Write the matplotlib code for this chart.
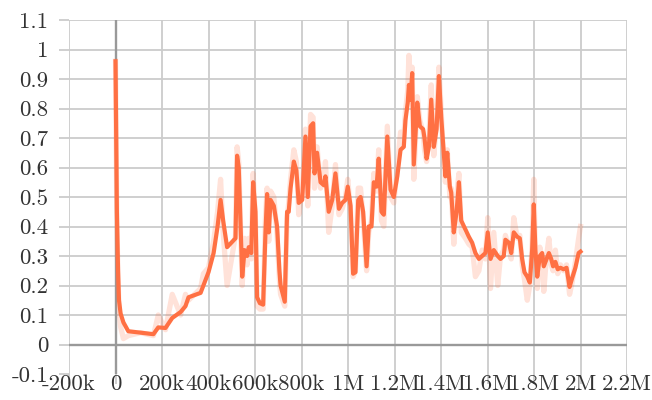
import matplotlib
matplotlib.use("Agg")
import matplotlib.pyplot as plt
from matplotlib.ticker import FixedLocator

plt.rcParams['axes.unicode_minus'] = False

# steps in thousands
steps_k = [0, 6, 11, 15, 22, 34, 55, 108, 163, 184, 215, 244, 280, 301, 314, 366, 378, 400, 422, 439,
           452, 463, 480, 516, 523, 530, 545, 555, 566, 573, 584, 592, 602, 609, 621, 635, 645, 652, 659, 667,
           681, 695, 705, 710, 728, 738, 745, 753, 767, 778, 788, 803, 817, 827, 839, 850, 856, 867, 882, 896,
           903, 917, 932, 946, 961, 975, 989, 999, 1011, 1022, 1032, 1044, 1054, 1065, 1080, 1089, 1101, 1111, 1123, 1132,
           1144, 1154, 1169, 1183, 1197, 1212, 1226, 1240, 1247, 1257, 1262, 1269, 1276, 1283, 1298, 1309, 1323, 1329, 1338, 1348,
           1358, 1369, 1381, 1391, 1401, 1412, 1419, 1427, 1438, 1444, 1455, 1467, 1477, 1487, 1505, 1520, 1534, 1548, 1563, 1577,
           1591, 1601, 1613, 1627, 1644, 1656, 1670, 1677, 1692, 1702, 1713, 1728, 1739, 1749, 1759, 1771, 1782, 1792, 1799, 1806,
           1814, 1825, 1835, 1842, 1854, 1864, 1874, 1882, 1892, 1902, 1914, 1927, 1940, 1953, 1964, 1978, 1992, 2000]

smoothed = [0.96, 0.45, 0.25, 0.15, 0.105, 0.075, 0.045, 0.04, 0.035, 0.058, 0.056, 0.09, 0.11, 0.13, 0.16, 0.175, 0.20, 0.245, 0.31, 0.40,
            0.49, 0.42, 0.33, 0.36, 0.64, 0.60, 0.23, 0.32, 0.30, 0.33, 0.31, 0.55, 0.45, 0.16, 0.14, 0.135, 0.38, 0.51, 0.38, 0.49,
            0.47, 0.40, 0.25, 0.20, 0.145, 0.45, 0.45, 0.53, 0.62, 0.59, 0.48, 0.49, 0.705, 0.50, 0.74, 0.75, 0.58, 0.65, 0.55, 0.54,
            0.57, 0.45, 0.49, 0.58, 0.46, 0.48, 0.49, 0.535, 0.47, 0.24, 0.245, 0.49, 0.50, 0.45, 0.265, 0.40, 0.40, 0.55, 0.535, 0.63,
            0.45, 0.44, 0.705, 0.525, 0.50, 0.57, 0.66, 0.67, 0.76, 0.82, 0.88, 0.83, 0.92, 0.61, 0.82, 0.74, 0.73, 0.70, 0.63, 0.67,
            0.83, 0.67, 0.73, 0.91, 0.77, 0.65, 0.57, 0.65, 0.535, 0.515, 0.38, 0.45, 0.55, 0.42, 0.39, 0.365, 0.345, 0.31, 0.29, 0.30,
            0.31, 0.38, 0.29, 0.32, 0.30, 0.29, 0.30, 0.355, 0.345, 0.31, 0.38, 0.365, 0.36, 0.29, 0.245, 0.23, 0.21, 0.32, 0.475, 0.32,
            0.23, 0.30, 0.31, 0.265, 0.29, 0.31, 0.29, 0.265, 0.28, 0.255, 0.26, 0.255, 0.26, 0.195, 0.225, 0.26, 0.31, 0.315]

raw = [0.96, 0.40, 0.22, 0.12, 0.06, 0.02, 0.03, 0.04, 0.03, 0.10, 0.05, 0.17, 0.10, 0.17, 0.15, 0.19, 0.24, 0.26, 0.35, 0.45,
       0.56, 0.38, 0.20, 0.37, 0.67, 0.62, 0.20, 0.36, 0.27, 0.36, 0.29, 0.58, 0.42, 0.13, 0.12, 0.12, 0.43, 0.53, 0.35, 0.52,
       0.50, 0.37, 0.22, 0.17, 0.13, 0.43, 0.48, 0.56, 0.66, 0.62, 0.44, 0.52, 0.73, 0.47, 0.78, 0.77, 0.53, 0.67, 0.53, 0.56,
       0.62, 0.38, 0.47, 0.61, 0.44, 0.46, 0.50, 0.56, 0.45, 0.23, 0.25, 0.53, 0.53, 0.43, 0.25, 0.38, 0.42, 0.58, 0.52, 0.66,
       0.42, 0.40, 0.74, 0.50, 0.48, 0.60, 0.72, 0.70, 0.79, 0.86, 0.98, 0.84, 0.94, 0.56, 0.84, 0.76, 0.72, 0.66, 0.62, 0.70,
       0.88, 0.64, 0.76, 0.94, 0.79, 0.62, 0.55, 0.66, 0.50, 0.53, 0.34, 0.50, 0.58, 0.38, 0.36, 0.34, 0.33, 0.23, 0.25, 0.32,
       0.29, 0.43, 0.19, 0.38, 0.20, 0.30, 0.32, 0.37, 0.33, 0.29, 0.43, 0.36, 0.37, 0.27, 0.22, 0.15, 0.20, 0.34, 0.56, 0.30,
       0.19, 0.33, 0.29, 0.18, 0.30, 0.36, 0.27, 0.25, 0.32, 0.24, 0.27, 0.25, 0.27, 0.17, 0.21, 0.28, 0.36, 0.40]

x_ticks = [-200000, 0, 200000, 400000, 600000, 800000, 1000000, 1200000, 1400000, 1600000, 1800000, 2000000, 2200000]
x_labels = ['-200k', '0', '200k', '400k', '600k', '800k', '1M', '1.2M', '1.4M', '1.6M', '1.8M', '2M', '2.2M']
y_ticks = [-0.1, 0, 0.1, 0.2, 0.3, 0.4, 0.5, 0.6, 0.7, 0.8, 0.9, 1, 1.1]
y_labels = ['-0.1', '0', '0.1', '0.2', '0.3', '0.4', '0.5', '0.6', '0.7', '0.8', '0.9', '1', '1.1']

steps = [s * 1000 for s in steps_k]
color = '#ff7043'
grid_c = '#cccccc'
zero_c = '#999999'

fig = plt.figure(figsize=(6.52, 4.0), dpi=100)
ax = fig.add_axes([69 / 652, 1 - 374 / 400, (627 - 69) / 652, (374 - 20) / 400])

for xt in x_ticks:
    if xt != 0:
        ax.axvline(xt, color=grid_c, lw=1.3, zorder=0)
for yt in y_ticks:
    if yt not in (0, -0.1):
        ax.axhline(yt, color=grid_c, lw=1.3, zorder=0)
ax.axhline(0, color=zero_c, lw=1.7, zorder=0.5)
ax.axvline(0, color=zero_c, lw=1.7, zorder=0.5)

ax.plot(steps, raw, color=color, alpha=0.2, lw=3.8, zorder=2)
ax.plot(steps, smoothed, color=color, lw=3.0, zorder=3)

ax.set_xlim(-200000, 2200000)
ax.set_ylim(-0.1, 1.1)
ax.xaxis.set_major_locator(FixedLocator(x_ticks))
ax.yaxis.set_major_locator(FixedLocator(y_ticks))
ax.set_xticklabels(x_labels)
ax.set_yticklabels(y_labels)
for s in ax.spines.values():
    s.set_visible(False)
ax.tick_params(axis='both', length=7, width=1.3, color=grid_c, labelcolor='#333333', labelsize=16.5)
ax.tick_params(axis='x', pad=-7)
ax.tick_params(axis='y', pad=8)
for lab in ax.get_xticklabels() + ax.get_yticklabels():
    lab.set_fontfamily('cmr10')

fig.savefig('out.png', dpi=100)
